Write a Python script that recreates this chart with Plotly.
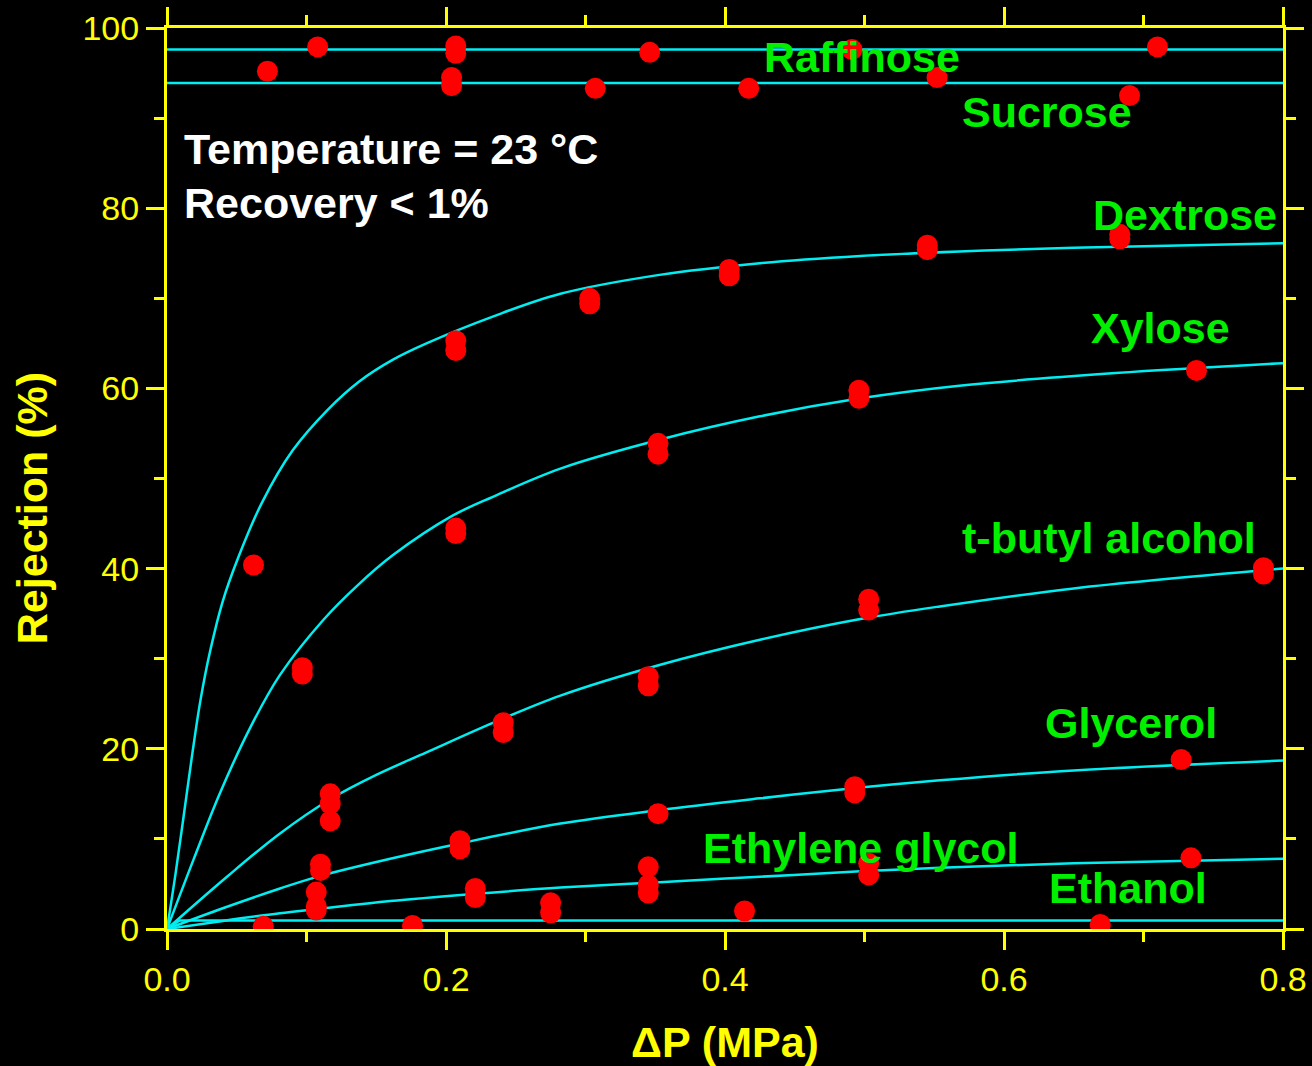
import plotly.graph_objects as go

# ---------------- data ----------------
# fitted model curves (pressure in MPa, rejection in %)
raff_curve_p = [0.0, 0.8]
raff_curve_r = [97.6, 97.6]
sucr_curve_p = [0.0, 0.8]
sucr_curve_r = [93.9, 93.9]
dext_curve_p = [0.0, 0.006, 0.012, 0.018, 0.024, 0.031, 0.040, 0.051, 0.068, 0.090,
                0.115, 0.138, 0.162, 0.186, 0.234, 0.282, 0.353, 0.425, 0.497, 0.568, 0.65, 0.8]
dext_curve_r = [0.0, 6.0, 12.6, 19.3, 25.4, 30.9, 36.4, 41.2, 47.3, 53.1,
                57.6, 60.8, 63.2, 65.0, 68.0, 70.5, 72.6, 73.9, 74.7, 75.2, 75.6, 76.1]
xyl_curve_p = [0.0, 0.019, 0.038, 0.0595, 0.081, 0.112, 0.137, 0.162, 0.205, 0.234, 0.282,
               0.353, 0.425, 0.497, 0.568, 0.68, 0.8]
xyl_curve_r = [0.0, 7.7, 15.1, 22.3, 28.2, 34.3, 38.2, 41.5, 45.9, 48.0, 51.1,
               54.3, 56.9, 58.9, 60.3, 61.7, 62.8]
tba_curve_p = [0.0, 0.043, 0.081, 0.117, 0.150, 0.186, 0.234, 0.282, 0.353, 0.425, 0.497,
               0.554, 0.65, 0.8]
tba_curve_r = [0.0, 5.8, 10.6, 14.4, 17.1, 19.6, 22.9, 25.9, 29.3, 32.1, 34.4,
               35.8, 37.8, 40.0]
gly_curve_p = [0.0, 0.040, 0.081, 0.110, 0.16, 0.21, 0.282, 0.353, 0.425, 0.497, 0.554, 0.65, 0.8]
gly_curve_r = [0.0, 2.3, 4.5, 5.9, 7.8, 9.5, 11.7, 13.2, 14.5, 15.7, 16.5, 17.6, 18.7]
eg_curve_p = [0.0, 0.040, 0.081, 0.107, 0.16, 0.221, 0.282, 0.353, 0.425, 0.497, 0.554, 0.65, 0.8]
eg_curve_r = [0.0, 0.9, 1.75, 2.2, 3.1, 3.9, 4.6, 5.2, 5.8, 6.4, 6.8, 7.3, 7.8]
eth_curve_p = [0.0, 0.009, 0.8]
eth_curve_r = [0.0, 0.95, 0.95]

# measured points
raff_p = [0.108, 0.207, 0.207, 0.346, 0.491, 0.710]
raff_r = [97.9, 98.0, 97.2, 97.3, 97.6, 97.9]
sucr_p = [0.072, 0.204, 0.204, 0.307, 0.417, 0.552, 0.690]
sucr_r = [95.2, 94.5, 93.6, 93.3, 93.3, 94.5, 92.5]
dext_p = [0.062, 0.207, 0.207, 0.303, 0.303, 0.403, 0.403, 0.545, 0.545, 0.683, 0.683]
dext_r = [40.4, 65.3, 64.2, 70.0, 69.4, 73.2, 72.5, 75.9, 75.4, 77.1, 76.6]
xyl_p = [0.097, 0.097, 0.207, 0.207, 0.352, 0.352, 0.496, 0.496, 0.738]
xyl_r = [29.0, 28.3, 44.5, 43.9, 53.9, 52.7, 59.8, 58.9, 62.0]
tba_p = [0.117, 0.117, 0.117, 0.241, 0.241, 0.345, 0.345, 0.503, 0.503, 0.786, 0.786]
tba_r = [15.0, 13.9, 12.0, 22.9, 21.8, 28.0, 27.0, 36.6, 35.4, 40.1, 39.4]
gly_p = [0.110, 0.110, 0.210, 0.210, 0.352, 0.493, 0.493, 0.727]
gly_r = [7.2, 6.5, 9.8, 8.9, 12.8, 15.8, 15.1, 18.8]
eg_p = [0.107, 0.107, 0.107, 0.221, 0.221, 0.345, 0.345, 0.345, 0.503, 0.503, 0.734]
eg_r = [4.1, 2.5, 2.1, 4.5, 3.5, 6.9, 4.9, 4.0, 7.3, 6.0, 7.9]
eth_p = [0.069, 0.176, 0.275, 0.275, 0.414, 0.669]
eth_r = [0.3, 0.4, 2.9, 1.8, 2.0, 0.5]

# labels
solute_names = ["Raffinose", "Sucrose", "Dextrose", "Xylose", "t-butyl alcohol",
                "Glycerol", "Ethylene glycol", "Ethanol"]
label_p = [0.498, 0.631, 0.730, 0.712, 0.675, 0.691, 0.497, 0.689]
label_r = [96.8, 90.7, 79.3, 66.7, 43.4, 22.9, 9.0, 4.5]
note_lines = ["Temperature = 23 °C", "Recovery < 1%"]
note_r = [86.6, 80.6]

x_ticks = [0.0, 0.2, 0.4, 0.6, 0.8]
y_ticks = [0, 20, 40, 60, 80, 100]
x_title = "ΔP (MPa)"
y_title = "Rejection (%)"

# ---------------- styling ----------------
FONT = "Liberation Sans, Arial, sans-serif"
YELLOW = "#FFFF00"
CYAN = "#00EEF2"
RED = "#FF0000"
GREEN = "#00F000"

fig = go.Figure()

curves = [(raff_curve_p, raff_curve_r), (sucr_curve_p, sucr_curve_r),
          (dext_curve_p, dext_curve_r), (xyl_curve_p, xyl_curve_r),
          (tba_curve_p, tba_curve_r), (gly_curve_p, gly_curve_r),
          (eg_curve_p, eg_curve_r), (eth_curve_p, eth_curve_r)]
for name, (cp, cr) in zip(solute_names, curves):
    shape = "spline" if len(cp) > 3 else "linear"
    fig.add_trace(go.Scatter(x=cp, y=cr, mode="lines", name=name + " fit",
                             line=dict(color=CYAN, width=2.5, shape=shape, smoothing=1.0),
                             showlegend=False, hoverinfo="skip"))

points = [(raff_p, raff_r), (sucr_p, sucr_r), (dext_p, dext_r), (xyl_p, xyl_r),
          (tba_p, tba_r), (gly_p, gly_r), (eg_p, eg_r), (eth_p, eth_r)]
for name, (pp, pr) in zip(solute_names, points):
    fig.add_trace(go.Scatter(x=pp, y=pr, mode="markers", name=name,
                             marker=dict(color=RED, size=21, symbol="circle",
                                         line=dict(width=0)),
                             showlegend=False))

for name, lp, lr in zip(solute_names, label_p, label_r):
    fig.add_annotation(x=lp, y=lr, xref="x", yref="y", text=name, showarrow=False,
                       xanchor="center", yanchor="middle",
                       font=dict(family=FONT, size=43, color=GREEN, weight="bold"))

for line, nr in zip(note_lines, note_r):
    fig.add_annotation(x=0.0108, y=nr, xref="x", yref="y", text=line, showarrow=False,
                       xanchor="left", yanchor="middle",
                       font=dict(family=FONT, size=43, color="#FFFFFF", weight="bold"))

# y axis title (placed slightly below the axis centre, as in the reference)
fig.add_annotation(x=-0.121, y=0.467, xref="paper", yref="paper", text=y_title,
                   textangle=-90, showarrow=False, xanchor="center", yanchor="middle",
                   font=dict(family=FONT, size=43, color=YELLOW, weight="bold"))

axis_common = dict(
    showline=True, linecolor=YELLOW, linewidth=3, mirror="allticks",
    ticks="outside", ticklen=18, tickwidth=3, tickcolor=YELLOW,
    showgrid=False, zeroline=False, automargin=False,
    tickfont=dict(family=FONT, size=34, color=YELLOW),
)

fig.update_xaxes(
    range=[0, 0.8], tickvals=x_ticks, ticktext=[f"{v:.1f}" for v in x_ticks],
    minor=dict(dtick=0.1, ticklen=10, tickwidth=3, tickcolor=YELLOW, ticks="outside"),
    title=dict(text=x_title, font=dict(family=FONT, size=43, color=YELLOW, weight="bold"),
               standoff=32),
    **axis_common,
)
fig.update_yaxes(
    range=[0, 100], tickvals=y_ticks,
    minor=dict(dtick=10, ticklen=10, tickwidth=3, tickcolor=YELLOW, ticks="outside"),
    **axis_common,
)

fig.update_layout(
    width=1312, height=1066,
    margin=dict(l=167, r=29, t=28, b=137),
    paper_bgcolor="#000000", plot_bgcolor="#000000",
    showlegend=False,
)

fig.write_html("out.html")
